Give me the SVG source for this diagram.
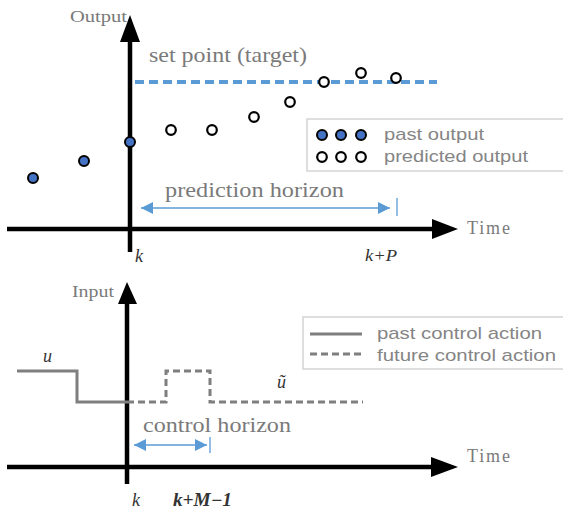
<svg xmlns="http://www.w3.org/2000/svg" width="563" height="513" viewBox="0 0 563 513">
<defs>
<style>
.ax{stroke:#000;stroke-width:4.5;fill:none}
.head{fill:#000}
.lbl{font-family:"Liberation Serif",serif;fill:#7a7a7a}
.math{font-family:"Liberation Serif",serif;font-style:italic;fill:#333}
.leg{font-family:"Liberation Sans",sans-serif;font-size:17px;fill:#858585}
.past{fill:#4472c4;stroke:#000;stroke-width:2}
.pred{fill:#fff;stroke:#000;stroke-width:2.2}
.box{fill:#fff;stroke:#d4d4d4;stroke-width:1.5}
.hz{stroke:#5b9bd5;stroke-width:1.3;fill:none}
.solid{stroke:#7f7f7f;stroke-width:3;fill:none}
.dash{stroke:#7f7f7f;stroke-width:3;fill:none;stroke-dasharray:7,4}
</style>
<marker id="ah" viewBox="0 0 10 10" refX="10" refY="5" markerWidth="12" markerHeight="12" markerUnits="userSpaceOnUse" orient="auto-start-reverse">
<path d="M0,0 L10,5 L0,10 z" fill="#5b9bd5"/>
</marker>
</defs>

<g id="top-axes">
<line class="ax" x1="7" y1="229" x2="434" y2="229"/>
<path class="head" d="M458,229 L432,219 L432,239 z"/>
<line class="ax" x1="130" y1="252" x2="130" y2="40"/>
<path class="head" d="M130,15 L120,42 L140,42 z"/>
<text class="lbl" x="70" y="22" font-size="16" textLength="57" lengthAdjust="spacingAndGlyphs">Output</text>
<text class="lbl" x="467" y="234" font-size="18" textLength="43">Time</text>
<text class="math" x="135" y="262" font-size="18">k</text>
<text class="math" x="365" y="261" font-size="16" textLength="32" lengthAdjust="spacingAndGlyphs">k+P</text>
</g>

<g id="setpoint">
<line x1="135" y1="82" x2="437" y2="82" stroke="#5b9bd5" stroke-width="4" stroke-dasharray="9,5"/>
<text class="lbl" x="149" y="62" font-size="21" textLength="158" lengthAdjust="spacingAndGlyphs">set point (target)</text>
</g>

<g id="past-output">
<circle class="past" cx="33" cy="178" r="5"/>
<circle class="past" cx="84" cy="161" r="5"/>
<circle class="past" cx="130" cy="142" r="5"/>
</g>

<g id="predicted-output">
<circle class="pred" cx="171" cy="130" r="4.8"/>
<circle class="pred" cx="212" cy="130" r="4.8"/>
<circle class="pred" cx="254" cy="117" r="4.8"/>
<circle class="pred" cx="290" cy="102" r="4.8"/>
<circle class="pred" cx="324" cy="82" r="4.8"/>
<circle class="pred" cx="361" cy="73" r="4.8"/>
<circle class="pred" cx="396" cy="78" r="4.8"/>
</g>

<g id="legend-output">
<rect class="box" x="307" y="119" width="262" height="52"/>
<circle class="past" cx="322" cy="135" r="5"/>
<circle class="past" cx="341" cy="135" r="5"/>
<circle class="past" cx="361" cy="135" r="5"/>
<circle class="pred" cx="322" cy="157" r="4.8"/>
<circle class="pred" cx="341" cy="157" r="4.8"/>
<circle class="pred" cx="361" cy="157" r="4.8"/>
<text class="leg" x="384" y="140" textLength="100" lengthAdjust="spacingAndGlyphs">past output</text>
<text class="leg" x="384" y="162" textLength="144" lengthAdjust="spacingAndGlyphs">predicted output</text>
</g>

<g id="prediction-horizon">
<text class="lbl" x="165" y="197" font-size="22" textLength="179" lengthAdjust="spacingAndGlyphs">prediction horizon</text>
<line class="hz" x1="141" y1="208" x2="390" y2="208" marker-start="url(#ah)" marker-end="url(#ah)"/>
<line class="hz" x1="397" y1="198" x2="397" y2="216"/>
</g>

<g id="bottom-axes">
<line class="ax" x1="7" y1="467" x2="434" y2="467"/>
<path class="head" d="M458,467 L431,457 L431,477 z"/>
<line class="ax" x1="127" y1="484" x2="127" y2="300"/>
<path class="head" d="M127,282 L118,304 L137,304 z"/>
<text class="lbl" x="72" y="297" font-size="16" textLength="42" lengthAdjust="spacingAndGlyphs">Input</text>
<text class="lbl" x="467" y="462" font-size="18" textLength="43">Time</text>
<text class="math" x="132" y="506" font-size="18">k</text>
<text class="math" x="173" y="506" font-size="18" font-weight="bold" textLength="59" lengthAdjust="spacingAndGlyphs">k+M−1</text>
</g>

<g id="control-signal">
<path class="solid" d="M17,371 H77 V402 H127"/>
<path class="dash" d="M127,402 H166 V371 H210 V402 H363"/>
<text class="math" x="43" y="362" font-size="18">u</text>
<text class="math" x="277" y="388" font-size="18">ũ</text>
</g>

<g id="legend-input">
<rect class="box" x="303" y="317" width="266" height="52"/>
<line class="solid" x1="310" y1="334" x2="362" y2="334"/>
<line class="dash" x1="310" y1="354" x2="362" y2="354" stroke-dasharray="6,3.5"/>
<text class="leg" x="377" y="339" textLength="165" lengthAdjust="spacingAndGlyphs">past control action</text>
<text class="leg" x="377" y="361" textLength="179" lengthAdjust="spacingAndGlyphs">future control action</text>
</g>

<g id="control-horizon">
<text class="lbl" x="143" y="432" font-size="22" textLength="148" lengthAdjust="spacingAndGlyphs">control horizon</text>
<line class="hz" x1="134" y1="445" x2="207" y2="445" marker-start="url(#ah)" marker-end="url(#ah)"/>
<line class="hz" x1="210" y1="437" x2="210" y2="453"/>
</g>
</svg>
